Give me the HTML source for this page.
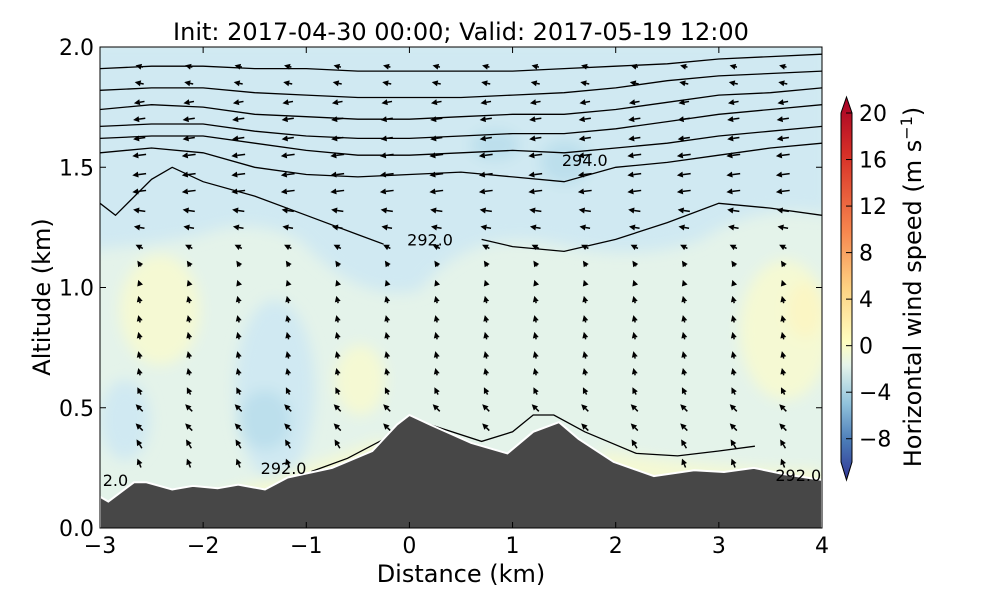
<!DOCTYPE html>
<html><head><meta charset="utf-8"><style>
body{margin:0;background:#fff;font-family:"Liberation Sans","DejaVu Sans",sans-serif}
svg text{font-family:"DejaVu Sans","Liberation Sans",sans-serif}
</style></head><body>
<svg id="chart" width="1000" height="600">
<defs>
<filter id="bl" x="-20%" y="-20%" width="140%" height="140%"><feGaussianBlur stdDeviation="7"/></filter>
<clipPath id="clip"><rect x="100" y="47" width="722" height="481"/></clipPath>
<linearGradient id="cb" x1="0" y1="1" x2="0" y2="0">
<stop offset="0" stop-color="#313695"/><stop offset="0.1" stop-color="#4a7ab7"/><stop offset="0.2" stop-color="#91c3dc"/><stop offset="0.3" stop-color="#e5f4ea"/><stop offset="0.36" stop-color="#fefec0"/><stop offset="0.5" stop-color="#fdd283"/><stop offset="0.65" stop-color="#f7864e"/><stop offset="0.85" stop-color="#d73027"/><stop offset="1" stop-color="#a50026"/>
</linearGradient>
</defs>
<g clip-path="url(#clip)">
<rect x="100" y="47" width="722" height="481" fill="#e4f3ea"/>
<g filter="url(#bl)">
<path d="M90 40 H830 V215 Q760 200 700 240 Q640 262 560 245 Q470 225 420 290 Q360 305 300 240 Q250 215 200 235 Q150 245 90 250 Z" fill="#d0e9f2"/>
<ellipse cx="495" cy="145" rx="25" ry="15" fill="#bcdfec"/>
<ellipse cx="565" cy="162" rx="25" ry="22" fill="#bcdfec"/>
<ellipse cx="275" cy="390" rx="40" ry="90" fill="#d0e9f2"/>
<ellipse cx="265" cy="420" rx="26" ry="30" fill="#bcdfec"/>
<ellipse cx="125" cy="420" rx="25" ry="40" fill="#d0e9f2"/>
<ellipse cx="160" cy="310" rx="40" ry="55" fill="#f5f9d3"/>
<ellipse cx="360" cy="380" rx="25" ry="35" fill="#f5f9d3"/>
<ellipse cx="785" cy="330" rx="45" ry="70" fill="#f5f9d3"/>
<ellipse cx="805" cy="310" rx="18" ry="28" fill="#fbf6c4"/>
<path d="M200 500 Q300 470 380 440 L410 460 L200 520Z" fill="#f5f9d3"/>
<path d="M600 450 Q700 470 822 470 L822 500 L600 480Z" fill="#f5f9d3"/>
</g>
<g id="contours"></g>
<g id="arrows"></g>
<path id="terrain" fill="#474747" stroke="#fff" stroke-width="2"/>
<g id="clabels"></g>
</g>
<rect x="100" y="47" width="722" height="481" fill="none" stroke="#000" stroke-width="1"/>
<g id="axes" font-size="22"></g>
<text x="461" y="40" font-size="24" text-anchor="middle">Init: 2017-04-30 00:00; Valid: 2017-05-19 12:00</text>
<text x="461" y="582" font-size="24" text-anchor="middle">Distance (km)</text>
<text transform="translate(50,297) rotate(-90)" font-size="24" text-anchor="middle">Altitude (km)</text>
<g>
<path d="M841 113 L846.5 97 L852 113 V462 L846.5 480 L841 462 Z" fill="url(#cb)" stroke="#000" stroke-width="1"/>
<g id="cbticks" font-size="22"></g>
<text transform="translate(921,287) rotate(-90)" font-size="24" text-anchor="middle">Horizontal wind speed (m s<tspan dy="-9" font-size="16">−1</tspan><tspan dy="9">)</tspan></text>
</g>
</svg>
<script>
const xTicks=[-3,-2,-1,0,1,2,3,4];
const yTicks=[0.0,0.5,1.0,1.5,2.0];
const cbTicks=[20,16,12,8,4,0,-4,-8];
const terrainDist=[-3,-2.92,-2.67,-2.55,-2.3,-2.1,-1.86,-1.66,-1.4,-1.18,-0.75,-0.36,-0.12,0,0.2,0.6,0.95,1.2,1.45,1.64,1.98,2.37,2.76,3.05,3.34,3.63,4];
const terrainAlt=[0.13,0.11,0.19,0.19,0.16,0.175,0.165,0.18,0.16,0.21,0.25,0.32,0.43,0.47,0.43,0.354,0.31,0.40,0.44,0.37,0.275,0.216,0.24,0.233,0.25,0.224,0.2];
const contourDist=[-3,-2.5,-2,-1.5,-1,-0.5,0,0.5,1,1.5,2,2.5,3,3.5,4];
const contourAlts=[
[1.91,1.92,1.92,1.91,1.91,1.90,1.90,1.90,1.90,1.91,1.92,1.93,1.95,1.96,1.97],
[1.82,1.83,1.83,1.81,1.80,1.79,1.79,1.79,1.80,1.81,1.83,1.86,1.88,1.89,1.90],
[1.74,1.76,1.75,1.72,1.71,1.70,1.70,1.71,1.72,1.72,1.74,1.77,1.80,1.81,1.83],
[1.67,1.68,1.68,1.65,1.63,1.62,1.62,1.63,1.64,1.64,1.66,1.69,1.72,1.74,1.76],
[1.62,1.63,1.63,1.60,1.57,1.55,1.55,1.56,1.57,1.56,1.58,1.60,1.63,1.65,1.67],
[1.56,1.58,1.56,1.50,1.47,1.46,1.47,1.48,1.46,1.44,1.50,1.52,1.55,1.58,1.60]];
const c7aDist=[-3,-2.85,-2.5,-2.3,-2,-1.5,-1,-0.5,-0.25];
const c7aAlt=[1.35,1.30,1.45,1.50,1.44,1.38,1.30,1.22,1.18];
const c7bDist=[0.7,1,1.5,2,2.5,3,3.5,4];
const c7bAlt=[1.20,1.17,1.15,1.20,1.27,1.35,1.33,1.30];
const lowDist=[0.2,0.7,1.0,1.2,1.4,1.7,2.2,2.6,3.0,3.35];
const lowAlt=[0.43,0.36,0.40,0.47,0.47,0.40,0.31,0.30,0.32,0.34];
const low2Dist=[-0.95,-0.6,-0.2];
const low2Alt=[0.235,0.29,0.38];
const arrowCols=[-2.62,-2.14,-1.66,-1.18,-0.7,-0.22,0.26,0.74,1.22,1.7,2.18,2.66,3.14,3.62];
const arrowLevels=[0.2,0.27,0.35,0.42,0.5,0.57,0.65,0.72,0.8,0.87,0.95,1.02,1.1,1.17,1.25,1.32,1.4,1.47,1.55,1.62,1.7,1.77,1.85,1.92];
const uLevel=[-1,-2,-3,-4,-4,-2,-1,-1,-1,-1,-1,-1,-2,-4,-6,-7,-8,-8,-8,-7,-7,-6,-5,-4];
const wLevel=[5,5,5,4,4,4,4,4,4,4,4,3,3,2,1,1,-1,-1,-1,-1,-1,-1,1,1];
const X=d=>100+(d+3)*103.14, Y=z=>528-z*240.5;
const ns="http://www.w3.org/2000/svg";
function mk(t,a,p){const e=document.createElementNS(ns,t);for(const k in a)e.setAttribute(k,a[k]);p.appendChild(e);return e;}
function line(ds,zs){return ds.map((d,i)=>(i?'L':'M')+X(d).toFixed(1)+' '+Y(zs[i]).toFixed(1)).join(' ');}
const tr=document.getElementById('terrain');
tr.setAttribute('d',line(terrainDist,terrainAlt)+' L'+X(4)+' '+(Y(0)+5)+' L'+X(-3)+' '+(Y(0)+5)+' Z');
const cg=document.getElementById('contours');
const allC=contourAlts.map(a=>[contourDist,a]).concat([[c7aDist,c7aAlt],[c7bDist,c7bAlt],[lowDist,lowAlt],[low2Dist,low2Alt]]);
allC.forEach(([ds,zs])=>{const p=mk('path',{d:line(ds,zs),fill:'none',stroke:'#000','stroke-width':1.3},cg);

});
const lg=document.getElementById('clabels');
[['294.0',1.7,1.53],['292.0',0.2,1.2],['292.0',-1.22,0.25],['2.0',-2.85,0.2],['292.0',3.77,0.22]].forEach(([t,d,z])=>{
const e=mk('text',{x:X(d),y:Y(z)+6,'font-size':16,'text-anchor':'middle'},lg);e.textContent=t;

});
const ag=document.getElementById('arrows');
arrowCols.forEach(d=>{arrowLevels.forEach((z,i)=>{
let ti=0;for(let k=0;k<terrainDist.length-1;k++){if(d>=terrainDist[k]&&d<=terrainDist[k+1]){ti=terrainAlt[k]+(terrainAlt[k+1]-terrainAlt[k])*(d-terrainDist[k])/(terrainDist[k+1]-terrainDist[k]);}}
if(z<ti+0.03)return;
const u=uLevel[i],w=wLevel[i];const L=Math.hypot(u,w);if(L<0.5)return;
const s=Math.min(1.6*L+1,14)/L;const dx=u*s,dy=-w*s;
const x0=X(d)-dx/2,y0=Y(z)-dy/2,x1=x0+dx,y1=y0+dy;
const ux=dx/Math.hypot(dx,dy),uy=dy/Math.hypot(dx,dy);
const hx=x1-ux*6,hy=y1-uy*6;
const g=mk('g',{},ag);


mk('line',{x1:x0,y1:y0,x2:hx,y2:hy,stroke:'#000','stroke-width':1.5},g);
mk('polygon',{points:`${x1},${y1} ${hx-uy*3},${hy+ux*3} ${hx+uy*3},${hy-ux*3}`,fill:'#000'},g);
});});
const ax=document.getElementById('axes');
xTicks.forEach(v=>{mk('line',{x1:X(v),x2:X(v),y1:528,y2:522,stroke:'#000'},ax);mk('line',{x1:X(v),x2:X(v),y1:47,y2:53,stroke:'#000'},ax);
const t=mk('text',{x:X(v),y:553,'text-anchor':'middle'},ax);t.textContent=(v<0?'−':'')+Math.abs(v);

});
yTicks.forEach(v=>{mk('line',{x1:100,x2:106,y1:Y(v),y2:Y(v),stroke:'#000'},ax);mk('line',{x1:816,x2:822,y1:Y(v),y2:Y(v),stroke:'#000'},ax);
const t=mk('text',{x:94,y:Y(v)+8,'text-anchor':'end'},ax);t.textContent=v.toFixed(1);

});
const cbt=document.getElementById('cbticks');
const CY=v=>113+(20-v)*(462-113)/30;
cbTicks.forEach(v=>{mk('line',{x1:846,x2:852,y1:CY(v),y2:CY(v),stroke:'#000'},cbt);
const t=mk('text',{x:859,y:CY(v)+8},cbt);t.textContent=(v<0?'−':'')+Math.abs(v);

});
</script>
</body></html>
